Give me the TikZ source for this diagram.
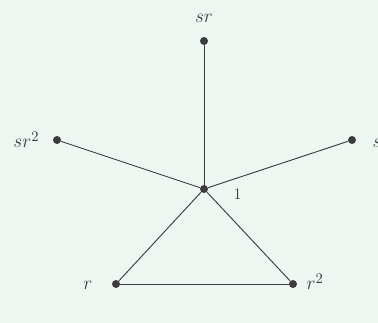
\documentclass[tikz,border=0pt]{standalone}
\usepackage{tikz}
\usetikzlibrary{positioning}
\definecolor{bgmint}{HTML}{EEF6F2}
\definecolor{ink}{HTML}{3C3C3C}

\begin{document}
\begin{tikzpicture}[
    x=0.75pt, y=-0.75pt,
    vertex/.style={circle, fill=ink, inner sep=0pt, minimum size=6pt},
    lbl/.style={font=\fontsize{15.5}{18}\selectfont, text=ink},
    edge/.style={draw=ink, line width=0.7pt}
]
% page
\fill[bgmint] (0,0) rectangle (378,323);
\useasboundingbox (0,0) rectangle (378,323);

% Vertices
\node[vertex] (one) at (204, 189) {};
\node[vertex] (sr)  at (204, 41)  {};
\node[vertex] (srr) at (57, 140)  {};
\node[vertex] (s)   at (352, 140) {};
\node[vertex] (r)   at (116, 284) {};
\node[vertex] (rr)  at (293, 284) {};

% Labels
\node[lbl] (srlbl) at (204, 18) {$sr$};
\node[lbl, anchor=base east] (srrlbl) at (44, 148) {$sr^2$};
\node[lbl, anchor=base west] (slbl) at (368, 148) {$s$};
\node[lbl, anchor=base west, font=\fontsize{13}{15}\selectfont] (onelbl) at (229, 200) {$1$};
\node[lbl, anchor=base east] (rlbl) at (97, 290) {$r$};
\node[lbl, anchor=base west] (rrlbl) at (302, 290) {$r^2$};

% Edges
\draw[edge] (one) -- (sr);
\draw[edge] (one) -- (srr);
\draw[edge] (one) -- (s);
\draw[edge] (one) -- (r);
\draw[edge] (one) -- (rr);
\draw[edge] (r) -- (rr);
\end{tikzpicture}
\end{document}
